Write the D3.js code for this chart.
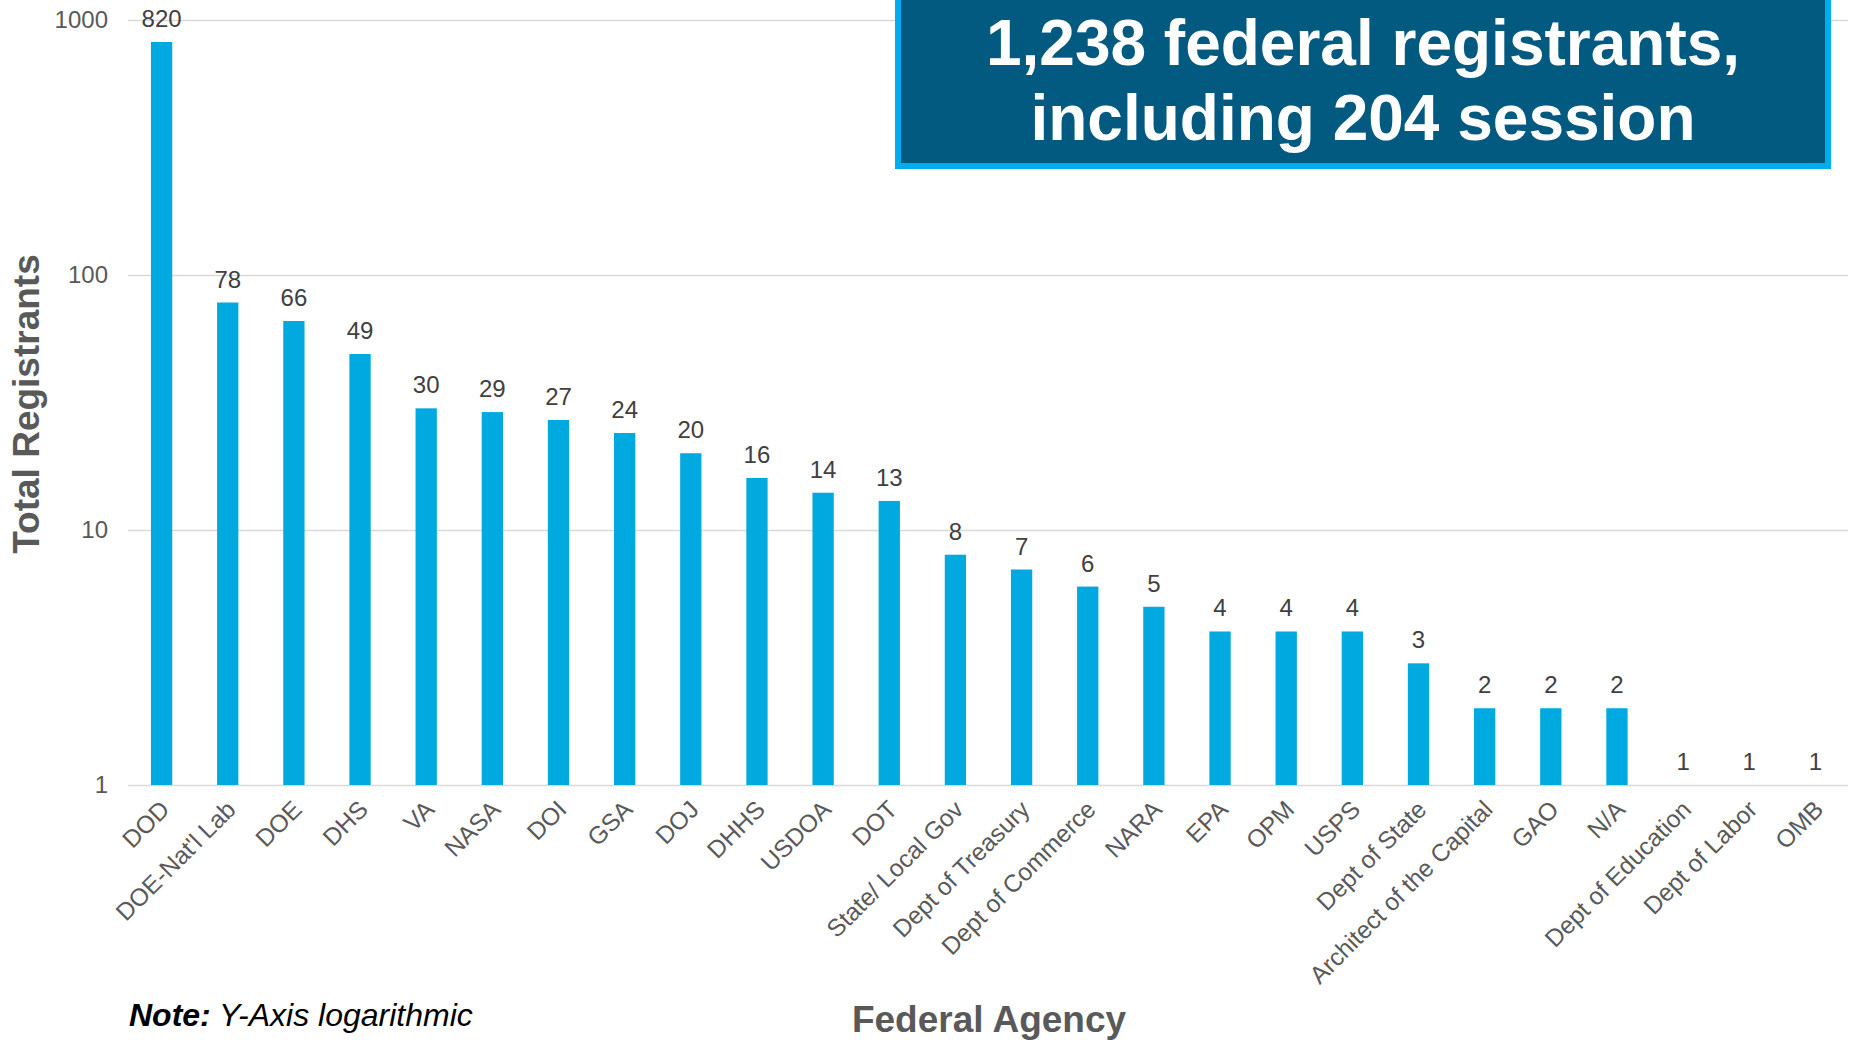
<!DOCTYPE html>
<html>
<head>
<meta charset="utf-8">
<script src="https://cdn.jsdelivr.net/npm/d3@7"></script>
<style>
  html, body { margin: 0; padding: 0; background: #fff; }
  svg { display: block; font-family: "Liberation Sans", Arial, Helvetica, sans-serif; }
</style>
</head>
<body>
<svg id="chart" width="1854" height="1040"></svg>
<script>
const agencies = ["DOD", "DOE-Nat'l Lab", "DOE", "DHS", "VA", "NASA", "DOI", "GSA", "DOJ", "DHHS",
  "USDOA", "DOT", "State/ Local Gov", "Dept of Treasury", "Dept of Commerce", "NARA", "EPA", "OPM",
  "USPS", "Dept of State", "Architect of the Capital", "GAO", "N/A", "Dept of Education", "Dept of Labor", "OMB"];
const registrants = [820, 78, 66, 49, 30, 29, 27, 24, 20, 16, 14, 13, 8, 7, 6, 5, 4, 4, 4, 3, 2, 2, 2, 1, 1, 1];
const yTicks = [1, 10, 100, 1000];
const titleLines = ["1,238 federal registrants,", "including 204 session"];
const yAxisTitle = "Total Registrants";
const xAxisTitle = "Federal Agency";
const noteBold = "Note:";
const noteText = " Y-Axis logarithmic";

const svg = d3.select("#chart");
const plotLeft = 128, plotRight = 1848, plotTop = 20, plotBottom = 785;

const x = d3.scaleBand().domain(agencies).range([plotLeft, plotRight]).paddingInner(0.678).paddingOuter(0.339);
const y = d3.scaleLog().domain([1, 1000]).range([plotBottom, plotTop]);

// gridlines + y tick labels
const yAxis = d3.axisLeft(y).tickValues(yTicks).tickFormat(d3.format("d")).tickSize(-(plotRight - plotLeft)).tickPadding(20);
const gy = svg.append("g").attr("transform", `translate(${plotLeft},0)`).call(yAxis);
gy.select(".domain").remove();
gy.selectAll(".tick line").attr("stroke", "#D9D9D9").attr("stroke-width", 1.5);
gy.selectAll(".tick text").attr("fill", "#595959").attr("font-size", 24)
  .attr("font-family", "'Liberation Sans', Arial, sans-serif");

// bars
svg.append("g").selectAll("rect").data(agencies).join("rect")
  .attr("x", d => x(d) + 0.5)
  .attr("width", x.bandwidth())
  .attr("y", (d, i) => y(registrants[i]))
  .attr("height", (d, i) => plotBottom - y(registrants[i]))
  .attr("fill", "#00A9E0");

// data labels
svg.append("g").selectAll("text").data(agencies).join("text")
  .attr("x", d => x(d) + x.bandwidth() / 2 + 0.5)
  .attr("y", (d, i) => y(registrants[i]) - 15)
  .attr("text-anchor", "middle")
  .attr("font-size", 24)
  .attr("fill", "#404040")
  .text((d, i) => registrants[i]);

// x axis labels
const xAxis = d3.axisBottom(x).tickSize(0).tickPadding(0);
const gx = svg.append("g").attr("transform", `translate(0,${plotBottom})`).call(xAxis);
gx.select(".domain").remove();
gx.selectAll(".tick text")
  .attr("font-size", 24.5)
  .attr("fill", "#595959")
  .attr("font-family", "'Liberation Sans', Arial, sans-serif")
  .attr("text-anchor", "end")
  .attr("dy", null)
  .attr("y", 0)
  .attr("transform", "translate(10,26) rotate(-45)");

// axis titles
svg.append("text")
  .attr("transform", `translate(39,404) rotate(-90)`)
  .attr("text-anchor", "middle")
  .attr("font-size", 37)
  .attr("font-weight", "bold")
  .attr("fill", "#595959")
  .text(yAxisTitle);

svg.append("text")
  .attr("x", 989).attr("y", 1032)
  .attr("text-anchor", "middle")
  .attr("font-size", 37)
  .attr("font-weight", "bold")
  .attr("fill", "#595959")
  .text(xAxisTitle);

// note
const note = svg.append("text").attr("x", 129).attr("y", 1026).attr("font-size", 32)
  .attr("font-style", "italic").attr("fill", "#000");
note.append("tspan").attr("font-weight", "bold").text(noteBold);
note.append("tspan").text(noteText);

// title box
const box = svg.append("g");
box.append("rect")
  .attr("x", 898).attr("y", -10).attr("width", 930).attr("height", 176)
  .attr("fill", "#035A80").attr("stroke", "#00AEEF").attr("stroke-width", 6);
box.selectAll("text").data(titleLines).join("text")
  .attr("x", 1363)
  .attr("y", (d, i) => 65 + i * 75)
  .attr("text-anchor", "middle")
  .attr("font-size", 64)
  .attr("font-weight", "bold")
  .attr("fill", "#fff")
  .text(d => d);
</script>
</body>
</html>
